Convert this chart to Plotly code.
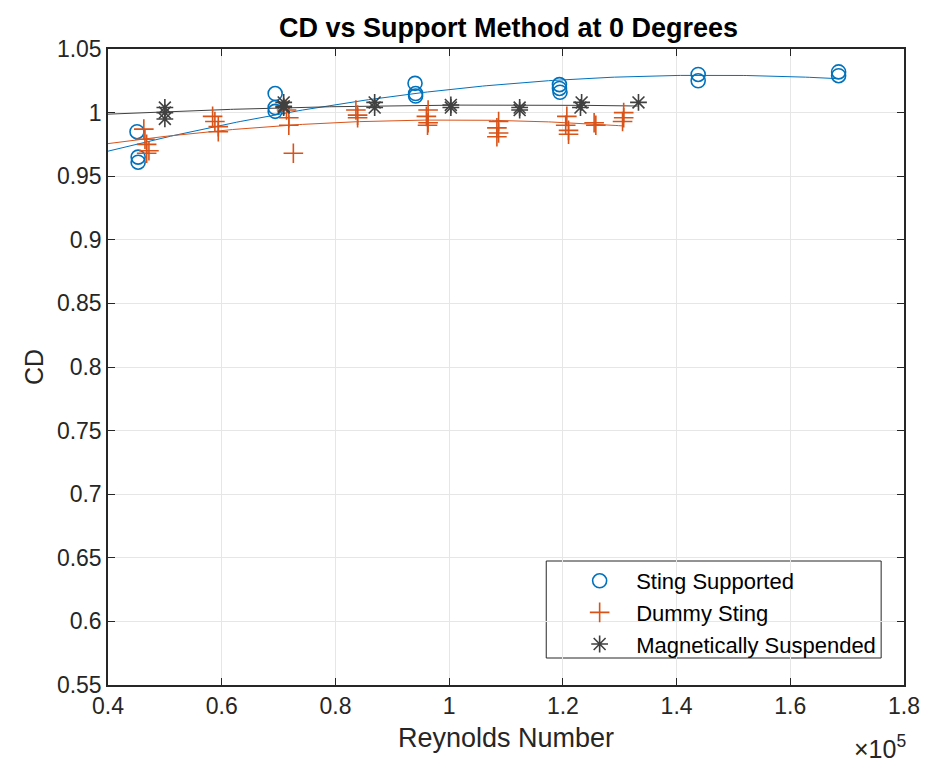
import numpy as np
import plotly.graph_objects as go

# Reynolds number (x 1e5) and drag coefficient for each support method
sting_re = [0.451, 0.453, 0.453, 0.694, 0.694, 0.694, 0.940, 0.941, 0.941,
            1.194, 1.194, 1.195, 1.438, 1.438, 1.685, 1.685]
sting_cd = [0.985, 0.965, 0.961, 1.015, 1.004, 1.001, 1.023, 1.015, 1.013,
            1.022, 1.019, 1.016, 1.030, 1.025, 1.032, 1.029]

dummy_re = [0.463, 0.465, 0.468, 0.472, 0.468,
            0.584, 0.588, 0.594, 0.594,
            0.714, 0.718, 0.718, 0.726,
            0.836, 0.839, 0.839,
            0.963, 0.960, 0.963, 0.962,
            1.087, 1.084, 1.087, 1.084,
            1.207, 1.205, 1.210, 1.210,
            1.255, 1.258,
            1.307, 1.307, 1.305]
dummy_cd = [0.987, 0.979, 0.975, 0.970, 0.968,
            0.997, 0.993, 0.989, 0.985,
            1.002, 0.996, 0.990, 0.968,
            1.002, 0.998, 0.996,
            1.002, 0.997, 0.992, 0.990,
            0.993, 0.988, 0.984, 0.981,
            0.997, 0.990, 0.986, 0.983,
            0.992, 0.990,
            1.000, 0.996, 0.993]

mag_re = [0.500, 0.500, 0.500, 0.709, 0.709, 0.709,
          0.869, 0.869, 1.003, 1.003, 1.124, 1.124,
          1.233, 1.231, 1.333]
mag_cd = [1.004, 1.000, 0.995, 1.008, 1.005, 1.004,
          1.008, 1.004, 1.006, 1.004, 1.004, 1.002,
          1.008, 1.004, 1.008]

series_names = ["Sting Supported", "Dummy Sting", "Magnetically Suspended"]
colors = ["#0072BD", "#D95319", "#404040"]
symbols = ["circle-open", "cross-thin-open", "asterisk-open"]

x_ticks = [0.4, 0.6, 0.8, 1.0, 1.2, 1.4, 1.6, 1.8]
x_tick_text = ["0.4", "0.6", "0.8", "1", "1.2", "1.4", "1.6", "1.8"]
y_ticks = [0.55, 0.6, 0.65, 0.7, 0.75, 0.8, 0.85, 0.9, 0.95, 1.0, 1.05]
y_tick_text = ["0.55", "0.6", "0.65", "0.7", "0.75", "0.8", "0.85", "0.9",
               "0.95", "1", "1.05"]

FONT = "Liberation Sans, Arial, sans-serif"
AXIS_COLOR = "#262626"

fig = go.Figure()

data = [(sting_re, sting_cd), (dummy_re, dummy_cd), (mag_re, mag_cd)]

# Quadratic least-squares fit for each method, drawn from the axis start
for (xs, ys), color in zip(data, colors):
    coef = np.polyfit(xs, ys, 2)
    xf = np.linspace(0.4, max(xs), 200)
    fig.add_trace(go.Scatter(x=xf, y=np.polyval(coef, xf), mode="lines",
                             line=dict(color=color, width=1),
                             showlegend=False, hoverinfo="skip"))

for i, ((xs, ys), name, color, sym) in enumerate(zip(data, series_names, colors, symbols)):
    fig.add_trace(go.Scatter(x=xs, y=ys, mode="markers", name=name,
                             legendgroup=f"g{i}",
                             marker=dict(symbol=sym, size=14, color=color,
                                         line=dict(color=color, width=1.6))))

fig.update_layout(
    width=932, height=772,
    margin=dict(l=108, r=23, t=49, b=87),
    paper_bgcolor="white", plot_bgcolor="white",
    font=dict(family=FONT, color=AXIS_COLOR, size=23),
    title=dict(text="<b>CD vs Support Method at 0 Degrees</b>",
               x=(108 + 909) / 2 / 932, xanchor="center",
               y=1 - 28 / 772, yanchor="middle",
               font=dict(family=FONT, size=27, color="black")),
    xaxis=dict(range=[0.4, 1.8], tickvals=x_ticks, ticktext=x_tick_text,
               showgrid=True, gridcolor="#e6e6e6", gridwidth=1,
               showline=True, linecolor=AXIS_COLOR, linewidth=1.5, mirror="ticks",
               ticks="inside", ticklen=7, tickcolor=AXIS_COLOR, tickwidth=1,
               zeroline=False,
               title=dict(text="Reynolds Number", standoff=10,
                          font=dict(size=27))),
    yaxis=dict(range=[0.55, 1.05], tickvals=y_ticks, ticktext=y_tick_text,
               showgrid=True, gridcolor="#e6e6e6", gridwidth=1,
               showline=True, linecolor=AXIS_COLOR, linewidth=1.5, mirror="ticks",
               ticks="inside", ticklen=7, tickcolor=AXIS_COLOR, tickwidth=1,
               zeroline=False,
               title=dict(text="CD", standoff=6, font=dict(size=25))),
    legend=dict(x=(566 - 108) / 801, xanchor="left",
                y=(685 - 560) / 636, yanchor="top",
                bgcolor="rgba(0,0,0,0)", borderwidth=0,
                tracegroupgap=0, itemwidth=63,
                font=dict(family=FONT, size=22, color="black")),
    shapes=[dict(type="rect", xref="paper", yref="paper",
                 x0=(549 - 108) / 801, x1=(886 - 108) / 801,
                 y0=(685 - 658) / 636, y1=(685 - 561) / 636,
                 line=dict(color=AXIS_COLOR, width=1), fillcolor="white",
                 layer="below")],
    annotations=[dict(text="×10<sup>5</sup>", xref="paper", yref="paper",
                      x=(913 - 108) / 801, xanchor="right",
                      y=-(765 - 685) / 636, yanchor="bottom",
                      showarrow=False,
                      font=dict(family=FONT, size=25, color=AXIS_COLOR))],
)

fig.write_html("out.html")
